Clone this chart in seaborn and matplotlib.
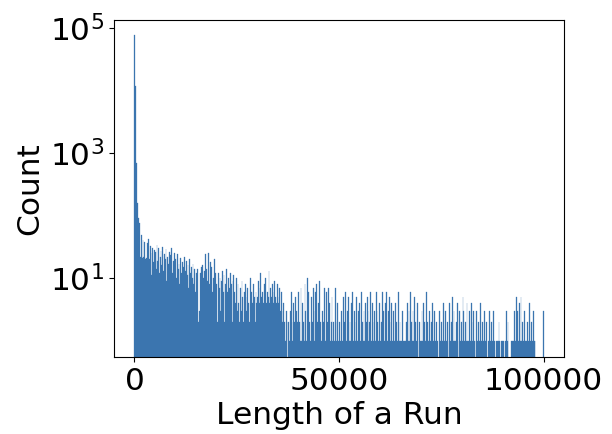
import numpy as np
import pandas as pd
import matplotlib
matplotlib.use("Agg")
import matplotlib.pyplot as plt
import seaborn as sns

# Histogram counts, 500 bins of width 200 over 0..100000
# (one row = 25 bins = 5000 units of run length)
counts_00 = [77000, 12000, 690, 160, 92, 23, 75, 22, 48, 21, 40, 22, 38, 20, 21, 36, 12, 42, 20, 33, 11, 25, 30, 18, 28]
counts_05 = [26, 14, 34, 19, 30, 12, 22, 27, 16, 31, 13, 24, 20, 29, 9, 22, 17, 26, 14, 23, 30, 12, 19, 25, 15]
counts_10 = [20, 10, 24, 14, 17, 8, 21, 12, 18, 15, 9, 22, 13, 19, 11, 16, 7, 20, 12, 15, 10, 17, 8, 14, 6]
counts_15 = [12, 5, 14, 2, 3, 12, 15, 11, 16, 10, 13, 24, 11, 14, 9, 25, 8, 18, 7, 15, 6, 10, 20, 7, 12]
counts_20 = [8, 2, 12, 7, 10, 3, 9, 13, 6, 11, 2, 8, 14, 6, 10, 3, 7, 12, 8, 2, 9, 11, 6, 4, 10]
counts_25 = [3, 8, 4, 2, 7, 3, 9, 5, 2, 6, 8, 3, 5, 7, 4, 2, 10, 3, 6, 4, 8, 5, 2, 6, 4]
counts_30 = [5, 9, 4, 7, 12, 5, 6, 4, 8, 5, 10, 4, 6, 5, 13, 4, 7, 5, 8, 4, 6, 9, 5, 4, 8]
counts_35 = [5, 4, 7, 3, 6, 2, 3, 4, 2, 1, 3, 2, 0, 2, 1, 3, 6, 2, 1, 4, 2, 5, 1, 3, 2]
counts_40 = [6, 2, 1, 7, 1, 4, 2, 1, 8, 3, 1, 10, 6, 2, 1, 1, 5, 2, 7, 3, 1, 6, 8, 2, 4]
counts_45 = [1, 9, 2, 1, 3, 1, 2, 7, 1, 6, 2, 1, 7, 4, 1, 2, 5, 1, 2, 1, 7, 1, 2, 4, 1]
counts_50 = [2, 1, 0, 3, 1, 5, 2, 6, 1, 1, 3, 5, 1, 2, 1, 4, 6, 1, 3, 2, 1, 5, 1, 3, 1]
counts_55 = [4, 1, 6, 2, 1, 3, 1, 4, 2, 5, 3, 1, 2, 6, 1, 4, 2, 1, 3, 1, 6, 3, 2, 1, 4]
counts_60 = [1, 2, 1, 6, 3, 1, 4, 2, 6, 1, 3, 5, 1, 2, 4, 1, 3, 1, 1, 4, 2, 1, 6, 1, 2]
counts_65 = [1, 1, 3, 1, 0, 1, 1, 2, 4, 1, 3, 1, 6, 2, 1, 3, 1, 5, 2, 1, 4, 1, 0, 2, 1]
counts_70 = [1, 3, 1, 4, 2, 1, 6, 1, 2, 1, 3, 1, 1, 2, 4, 1, 3, 1, 1, 2, 1, 0, 3, 1, 1]
counts_75 = [2, 1, 4, 1, 1, 3, 1, 2, 0, 1, 4, 1, 2, 5, 1, 3, 1, 1, 2, 4, 1, 0, 3, 1, 2]
counts_80 = [1, 5, 3, 1, 2, 1, 4, 1, 1, 3, 1, 4, 2, 1, 3, 1, 0, 1, 3, 1, 2, 1, 4, 1, 1]
counts_85 = [2, 1, 3, 1, 1, 2, 0, 1, 3, 1, 1, 2, 1, 3, 1, 1, 0, 1, 1, 1, 2, 1, 0, 1, 1]
counts_90 = [1, 1, 0, 1, 3, 1, 2, 0, 0, 0, 1, 0, 1, 1, 3, 1, 5, 1, 3, 1, 4, 1, 5, 1, 2]
counts_95 = [1, 3, 1, 0, 1, 2, 1, 4, 1, 1, 2, 1, 3, 1, 1, 0, 0, 0, 0, 0, 0, 0, 0, 0, 3]

counts = (counts_00 + counts_05 + counts_10 + counts_15 + counts_20 + counts_25
          + counts_30 + counts_35 + counts_40 + counts_45 + counts_50 + counts_55
          + counts_60 + counts_65 + counts_70 + counts_75 + counts_80 + counts_85
          + counts_90 + counts_95)

n_bins = len(counts)
width = 100000 / n_bins
df = pd.DataFrame({
    "length": (np.arange(n_bins) + 0.5) * width,
    "count": counts,
})

fig, ax = plt.subplots(figsize=(6.12, 4.34), dpi=100)
fig.subplots_adjust(left=114/612, right=564/612, top=1-20/434, bottom=1-357/434)

sns.histplot(data=df, x="length", weights="count", bins=n_bins,
             binrange=(0, 100000), color="#3b75af", alpha=1,
             edgecolor="#3b75af", linewidth=0.2, ax=ax)
ax.set_yscale("log")
ax.set_ylim(0.545, 1.35e5)
ax.minorticks_off()

ax.set_xlabel("Length of a Run", fontsize=22.5)
ax.set_ylabel("Count", fontsize=22.5)
ax.tick_params(labelsize=22.5)

plt.savefig("out.png")
plt.close()
